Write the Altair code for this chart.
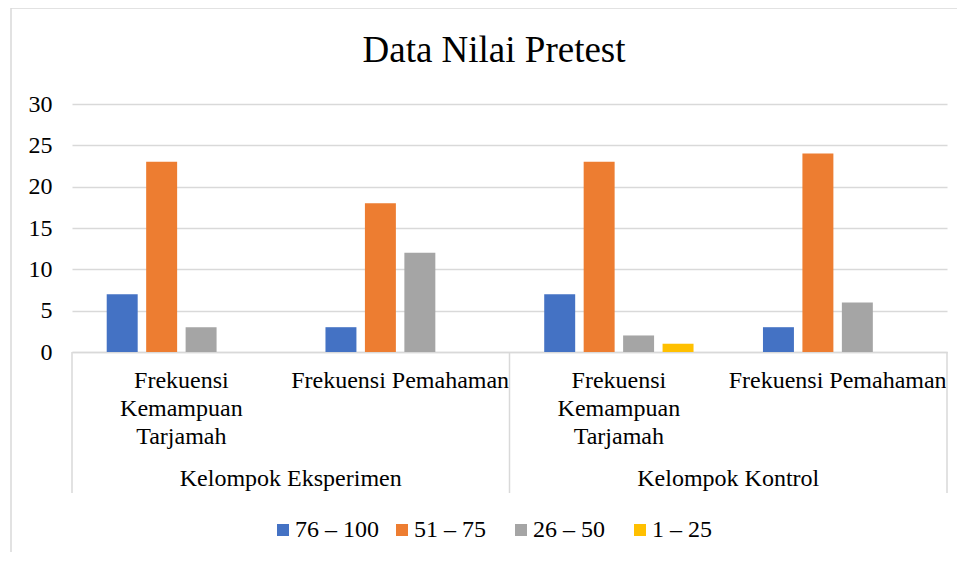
import altair as alt
import pandas as pd

# ---- data ----
groups = ["Kelompok Eksperimen", "Kelompok Eksperimen", "Kelompok Kontrol", "Kelompok Kontrol"]
subcats = ["Frekuensi\nKemampuan\nTarjamah", "Frekuensi Pemahaman",
           "Frekuensi\nKemampuan\nTarjamah", "Frekuensi Pemahaman"]
series = ["76 – 100", "51 – 75", "26 – 50", "1 – 25"]
colors = ["#4472C4", "#ED7D31", "#A5A5A5", "#FFC000"]
v_76_100 = [7, 3, 7, 3]
v_51_75 = [23, 18, 23, 24]
v_26_50 = [3, 12, 2, 6]
v_1_25 = [0, 0, 1, 0]
y_ticks = [0, 5, 10, 15, 20, 25, 30]
title_text = "Data Nilai Pretest"

FONT = "Liberation Serif, Times New Roman, serif"
W, H = 875, 248

keys = [f"{g}|{i}" for i, g in enumerate(groups)]
rows = []
for s, vals in zip(series, [v_76_100, v_51_75, v_26_50, v_1_25]):
    for k, g, sc, v in zip(keys, groups, subcats, vals):
        rows.append({"key": k, "group": g, "sub": sc, "series": s, "value": v})
df = pd.DataFrame(rows)
lab_df = pd.DataFrame({"key": keys, "sub": subcats, "group": groups})
grp_df = lab_df.iloc[[0, 2]]

xscale = alt.Scale(domain=keys, paddingInner=0, paddingOuter=0)

bars = alt.Chart(df).mark_bar().encode(
    x=alt.X("key:N", scale=xscale,
            axis=alt.Axis(labels=False, ticks=False, title=None, domain=True,
                          domainColor="#D9D9D9", domainWidth=1.5, grid=False)),
    xOffset=alt.XOffset("series:N", scale=alt.Scale(domain=series, paddingInner=0.215, paddingOuter=0.88)),
    y=alt.Y("value:Q", scale=alt.Scale(domain=[0, 30], nice=False),
            axis=alt.Axis(values=y_ticks, title=None, domain=False, ticks=False,
                          labelFont=FONT, labelFontSize=24, labelColor="#000000",
                          labelPadding=20, gridColor="#D9D9D9", gridWidth=1.5)),
    color=alt.Color("series:N", scale=alt.Scale(domain=series, range=colors),
                    legend=alt.Legend(title=None, orient="none", direction="horizontal",
                                      legendX=199, legendY=414, symbolType="square",
                                      symbolSize=144, symbolStrokeWidth=0,
                                      labelFont=FONT, labelFontSize=24, labelColor="#000000",
                                      labelOffset=0, columnPadding=11, gridAlign="all",
                                      padding=0)),
)

sub_labels = alt.Chart(lab_df).mark_text(
    font=FONT, fontSize=24, color="#000000", lineBreak="\n", lineHeight=28,
    baseline="alphabetic", align="center"
).encode(x=alt.X("key:N", scale=xscale), y=alt.value(284), text="sub:N")

grp_labels = alt.Chart(grp_df).mark_text(
    font=FONT, fontSize=24, color="#000000", baseline="alphabetic", align="center"
).encode(x=alt.X("key:N", scale=xscale, bandPosition=1), y=alt.value(382), text="group:N")

sep = alt.Chart(pd.DataFrame({"key": [keys[0], keys[2]]})).mark_rule(
    color="#D9D9D9", strokeWidth=1.5
).encode(x=alt.X("key:N", scale=xscale, bandPosition=0), y=alt.value(H), y2=alt.value(H + 141))

sep_right = alt.Chart(pd.DataFrame({"key": [keys[3]]})).mark_rule(
    color="#D9D9D9", strokeWidth=1.5
).encode(x=alt.X("key:N", scale=xscale, bandPosition=1), y=alt.value(H), y2=alt.value(H + 141))

title = alt.Chart(pd.DataFrame({"t": [title_text]})).mark_text(
    font=FONT, fontSize=37, color="#000000", baseline="alphabetic", align="center"
).encode(x=alt.value(422), y=alt.value(-42), text="t:N")

border_left = alt.Chart(pd.DataFrame({"a": [0]})).mark_rule(color="#D9D9D9", strokeWidth=1.5).encode(
    x=alt.value(-61), y=alt.value(-96), y2=alt.value(450))
border_top = alt.Chart(pd.DataFrame({"a": [0]})).mark_rule(color="#D9D9D9", strokeWidth=1.5).encode(
    x=alt.value(-61), x2=alt.value(W + 10), y=alt.value(-96))

chart = alt.layer(border_left, border_top, bars, sub_labels, grp_labels, sep, sep_right, title).properties(
    width=W, height=H,
    autosize=alt.AutoSizeParams(type="none"),
    padding={"left": 64, "top": 96, "right": 10, "bottom": 200},
).configure(font=FONT).configure_view(stroke=None).configure_axis(
    labelFont=FONT, labelFontSize=24, labelColor="#000000"
).configure_legend(labelFont=FONT, labelFontSize=24, labelColor="#000000")

chart.save("out.html", embed_options={"renderer": "svg", "actions": False})
